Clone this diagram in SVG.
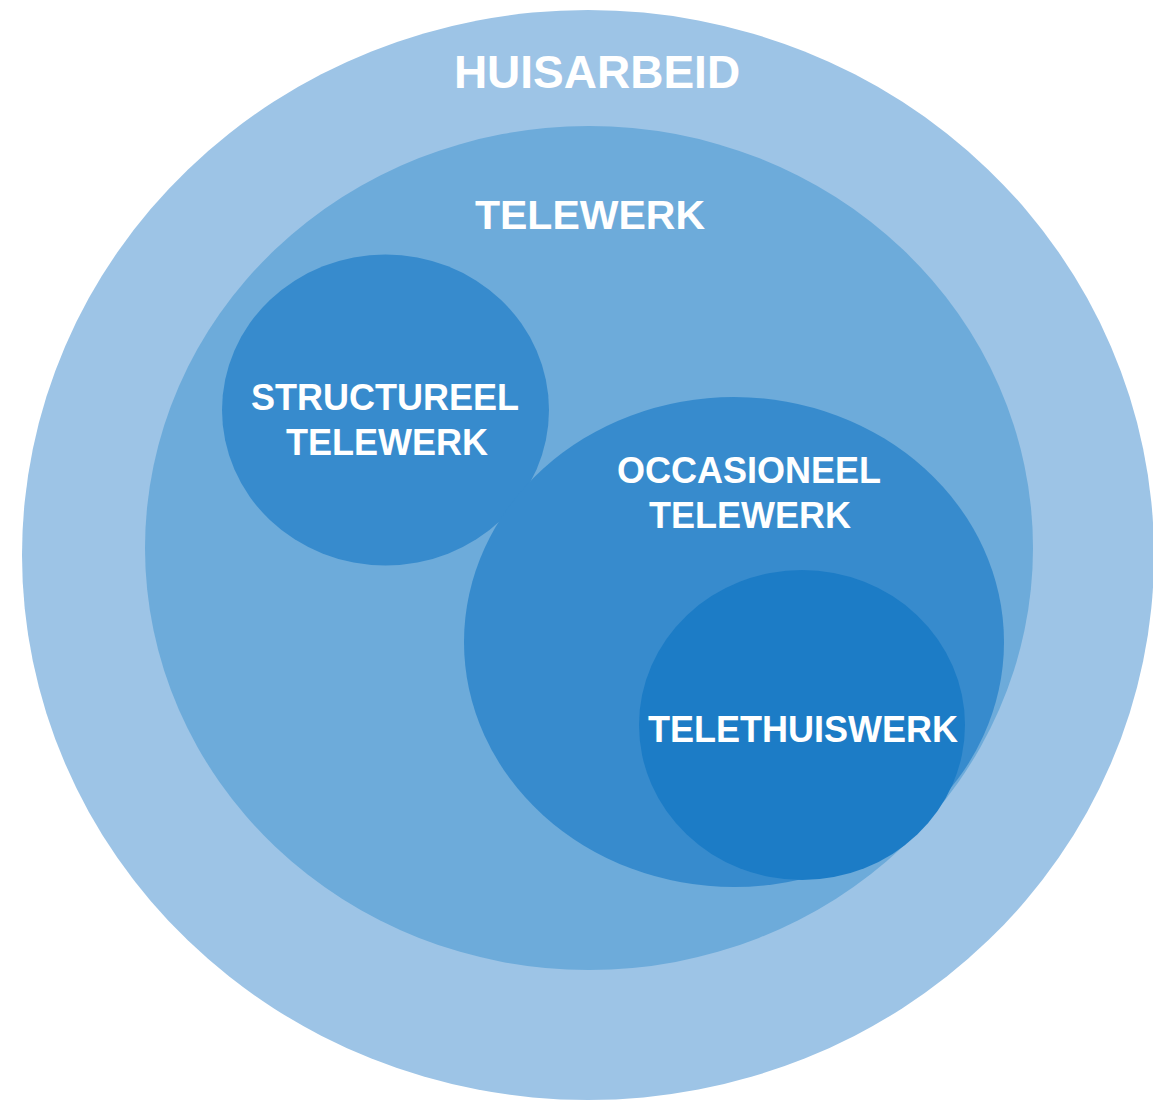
<svg xmlns="http://www.w3.org/2000/svg" width="1153" height="1104" viewBox="0 0 1153 1104">
<style>
.t{font-family:"Liberation Sans",Arial,sans-serif;font-weight:bold;fill:#ffffff;text-anchor:middle}
</style>
<rect width="1153" height="1104" fill="#ffffff"/>
<g id="huisarbeid">
<ellipse cx="588" cy="555" rx="566" ry="545" fill="#9DC4E6"/>
<text class="t" x="597" y="88" font-size="46">HUISARBEID</text>
</g>
<g id="telewerk">
<ellipse cx="589" cy="548" rx="444" ry="422" fill="#6DABDA"/>
<text class="t" x="590" y="229" font-size="41">TELEWERK</text>
</g>
<g id="structureel">
<ellipse cx="385.5" cy="410" rx="163.5" ry="155.5" fill="#378BCD"/>
<text class="t" x="385" y="410" font-size="36">STRUCTUREEL</text>
<text class="t" x="387" y="455" font-size="36">TELEWERK</text>
</g>
<g id="occasioneel">
<ellipse cx="734" cy="642" rx="270" ry="245" fill="#378BCD"/>
<text class="t" x="749" y="483" font-size="36">OCCASIONEEL</text>
<text class="t" x="750" y="528" font-size="36">TELEWERK</text>
</g>
<g id="telethuiswerk">
<ellipse cx="802" cy="725" rx="163" ry="155" fill="#1C7CC6"/>
<text class="t" x="803" y="742" font-size="36">TELETHUISWERK</text>
</g>
<g id="connectors"/>
</svg>
